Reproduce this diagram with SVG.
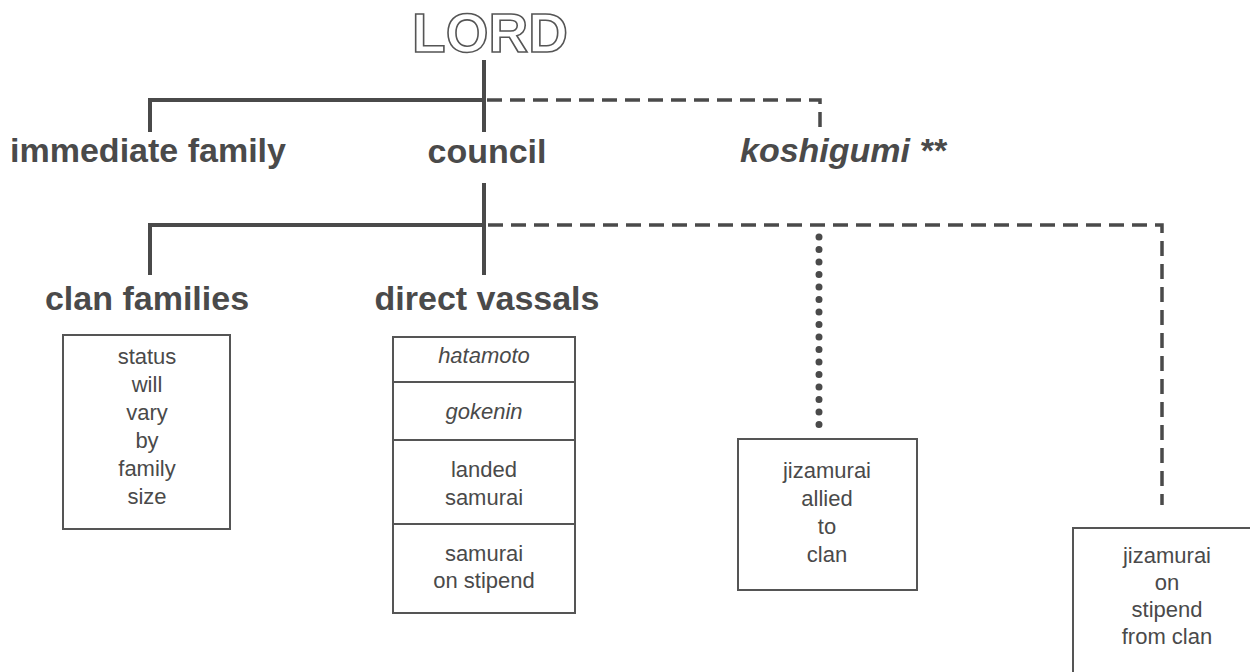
<svg xmlns="http://www.w3.org/2000/svg" width="1250" height="672" viewBox="0 0 1250 672">
<style>
.lbl{font-family:"Liberation Sans",Arial,sans-serif;font-weight:bold;font-size:34px;fill:#4a4a4a;text-anchor:middle}
.it{font-style:italic}
.bt{font-family:"Liberation Sans",Arial,sans-serif;font-size:22px;fill:#4a4a4a;text-anchor:middle}
.box{fill:#fff;stroke:#555;stroke-width:2}
.solid{fill:none;stroke:#4a4a4a;stroke-width:4}
.dash{fill:none;stroke:#4a4a4a;stroke-width:3.5;stroke-dasharray:15 8}
.dot{fill:none;stroke:#4a4a4a;stroke-width:7;stroke-linecap:round;stroke-dasharray:0 12.5}
</style>
<rect width="1250" height="672" fill="#fff"/>
<g id="connectors">
<path class="solid" d="M484,60 V132 M150,132 V100 H484"/>
<path class="dash" d="M487,100 H820 V128"/>
<path class="solid" d="M484,183 V275 M150,275 V225 H484"/>
<path class="dash" d="M488,225 H1162 V505"/>
<path class="dot" d="M819,237 V425"/>
</g>
<g id="lord">
<text x="490" y="52" style="font-family:'Liberation Sans',Arial,sans-serif;font-weight:bold;font-size:55px;fill:#fff;stroke:#555;stroke-width:1.6;text-anchor:middle">LORD</text>
</g>
<g id="immediate-family"><text class="lbl" x="148" y="162">immediate family</text></g>
<g id="council"><text class="lbl" x="487" y="163">council</text></g>
<g id="koshigumi"><text class="lbl it" x="740" y="162" style="text-anchor:start">koshigumi **</text></g>
<g id="clan-families">
<text class="lbl" x="147" y="310">clan families</text>
<rect class="box" x="63" y="335" width="167" height="194"/>
<text class="bt" x="147" y="364">status</text>
<text class="bt" x="147" y="392">will</text>
<text class="bt" x="147" y="420">vary</text>
<text class="bt" x="147" y="448">by</text>
<text class="bt" x="147" y="476">family</text>
<text class="bt" x="147" y="504">size</text>
</g>
<g id="direct-vassals">
<text class="lbl" x="487" y="310">direct vassals</text>
<rect class="box" x="393" y="337" width="182" height="276"/>
<path d="M393,382 H575 M393,440 H575 M393,524 H575" stroke="#555" stroke-width="2"/>
<text class="bt it" x="484" y="363">hatamoto</text>
<text class="bt it" x="484" y="419">gokenin</text>
<text class="bt" x="484" y="477">landed</text>
<text class="bt" x="484" y="505">samurai</text>
<text class="bt" x="484" y="561">samurai</text>
<text class="bt" x="484" y="588">on stipend</text>
</g>
<g id="jizamurai-allied">
<rect class="box" x="738" y="439" width="179" height="151"/>
<text class="bt" x="827" y="478">jizamurai</text>
<text class="bt" x="827" y="506">allied</text>
<text class="bt" x="827" y="534">to</text>
<text class="bt" x="827" y="562">clan</text>
</g>
<g id="jizamurai-stipend">
<rect class="box" x="1073" y="528" width="190" height="170"/>
<text class="bt" x="1167" y="563">jizamurai</text>
<text class="bt" x="1167" y="590">on</text>
<text class="bt" x="1167" y="617">stipend</text>
<text class="bt" x="1167" y="644">from clan</text>
</g>
</svg>
